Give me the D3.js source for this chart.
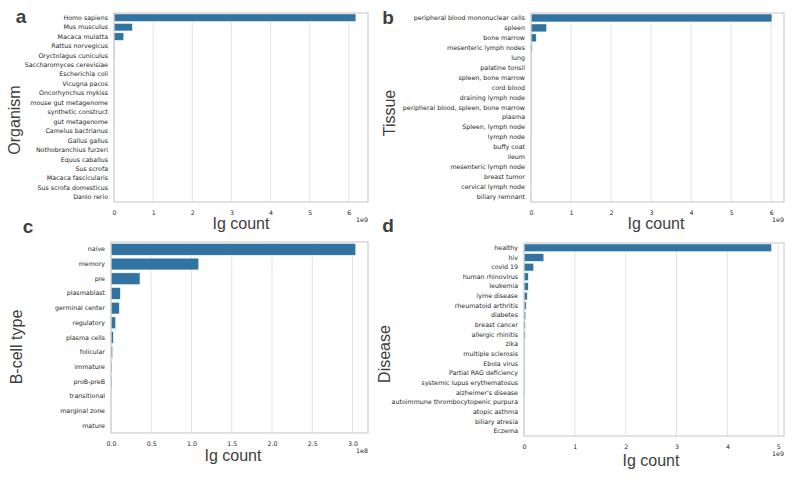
<!DOCTYPE html>
<html>
<head>
<meta charset="utf-8">
<script src="https://cdn.jsdelivr.net/npm/d3@7"></script>
<style>
  body { margin: 0; background: #fff; }
  svg { display: block; }
  .cat text, .num text { font-family: "DejaVu Sans", sans-serif; fill: #262626; }
  .lab { font-family: "Liberation Sans", Arial, sans-serif; fill: #404040; }
</style>
</head>
<body>
<div id="chart"></div>
<script>
// panel a - organism
var organisms = ["Homo sapiens", "Mus musculus", "Macaca mulatta", "Rattus norvegicus",
  "Oryctolagus cuniculus", "Saccharomyces cerevisiae", "Escherichia coli", "Vicugna pacos",
  "Oncorhynchus mykiss", "mouse gut metagenome", "synthetic construct", "gut metagenome",
  "Camelus bactrianus", "Gallus gallus", "Nothobranchius furzeri", "Equus caballus",
  "Sus scrofa", "Macaca fascicularis", "Sus scrofa domesticus", "Danio rerio"];
var organismCounts = [6.18e9, 0.47e9, 0.25e9, 0.02e9, 0.02e9, 0.004e9, 0.003e9, 0.002e9,
  0.002e9, 0.001e9, 0.001e9, 0.001e9, 0.0008e9, 0.0006e9, 0.0005e9, 0.0004e9,
  0.0003e9, 0.0003e9, 0.0002e9, 0.0001e9];
var organismTicks = [0, 1, 2, 3, 4, 5, 6];

// panel b - tissue
var tissues = ["peripheral blood mononuclear cells", "spleen", "bone marrow",
  "mesenteric lymph nodes", "lung", "palatine tonsil", "spleen, bone marrow", "cord blood",
  "draining lymph node", "peripheral blood, spleen, bone marrow", "plasma", "Spleen, lymph node",
  "lymph node", "buffy coat", "ileum", "mesenteric lymph node", "breast tumor",
  "cervical lymph node", "biliary remnant"];
var tissueCounts = [6.02e9, 0.39e9, 0.13e9, 0.03e9, 0.012e9, 0.012e9, 0.012e9, 0.011e9,
  0.011e9, 0.01e9, 0.01e9, 0.01e9, 0.004e9, 0.003e9, 0.003e9, 0.002e9, 0.002e9,
  0.001e9, 0.001e9];
var tissueTicks = [0, 1, 2, 3, 4, 5, 6];

// panel c - b-cell type
var cellTypes = ["naive", "memory", "pre", "plasmablast", "germinal center", "regulatory",
  "plasma cells", "folicular", "immature", "proB-preB", "transitional", "marginal zone", "mature"];
var cellCounts = [3.04e8, 1.09e8, 0.36e8, 0.116e8, 0.103e8, 0.058e8, 0.029e8, 0.02e8,
  0.012e8, 0.012e8, 0.003e8, 0.002e8, 0.001e8];
var cellTicks = [0, 0.5, 1.0, 1.5, 2.0, 2.5, 3.0];

// panel d - disease
var diseases = ["healthy", "hiv", "covid 19", "human rhinovirus", "leukemia", "lyme disease",
  "rheumatoid arthritis", "diabetes", "breast cancer", "allergic rhinitis", "zika",
  "multiple sclerosis", "Ebola virus", "Partial RAG deficiency", "systemic lupus erythematosus",
  "alzheimer's disease", "autoimmune thrombocytopenic purpura", "atopic asthma",
  "biliary atresia", "Eczema"];
var diseaseCounts = [4.87e9, 0.39e9, 0.19e9, 0.085e9, 0.085e9, 0.065e9, 0.042e9, 0.035e9,
  0.025e9, 0.025e9, 0.012e9, 0.012e9, 0.012e9, 0.012e9, 0.012e9, 0.012e9, 0.003e9,
  0.002e9, 0.001e9, 0.001e9];
var diseaseTicks = [0, 1, 2, 3, 4, 5];

var W = 800, H = 486;
var barColor = "#3274a1";

var svg = d3.select("#chart").append("svg").attr("width", W).attr("height", H);

function drawPanel(p) {
  var g = svg.append("g");
  var xmax = d3.max(p.values) * 1.05;
  var x = d3.scaleLinear().domain([0, xmax]).range([p.left, p.right]);
  var y = d3.scaleBand().domain(p.cats).range([p.top, p.bottom])
    .paddingInner(0.2).paddingOuter(0.1);

  // grid lines
  g.append("g").selectAll("line").data(p.ticks).join("line")
    .attr("x1", function(d) { return x(d * p.scale); })
    .attr("x2", function(d) { return x(d * p.scale); })
    .attr("y1", p.top).attr("y2", p.bottom)
    .attr("stroke", "#e3e3e3").attr("stroke-width", 1);

  // bars
  g.append("g").selectAll("rect").data(p.values).join("rect")
    .attr("x", x(0))
    .attr("y", function(d, i) { return y(p.cats[i]); })
    .attr("width", function(d) { return x(d) - x(0); })
    .attr("height", y.bandwidth())
    .attr("fill", barColor)
    .attr("stroke", "#fff").attr("stroke-width", 0.5);

  // frame
  g.append("rect")
    .attr("x", p.left).attr("y", p.top)
    .attr("width", p.right - p.left).attr("height", p.bottom - p.top)
    .attr("fill", "none").attr("stroke", "#cfcfcf").attr("stroke-width", 1.2);

  // category axis
  var yAxis = d3.axisLeft(y).tickSize(0).tickPadding(6);
  g.append("g").attr("class", "cat")
    .attr("transform", "translate(" + p.left + ",0)")
    .call(yAxis)
    .call(function(s) { s.select(".domain").remove(); })
    .selectAll("text").style("font-size", "6.3px");

  // value axis
  var xAxis = d3.axisBottom(x).tickValues(p.ticks.map(function(t) { return t * p.scale; }))
    .tickSize(0).tickPadding(9)
    .tickFormat(function(d) { return d3.format(p.fmt)(d / p.scale); });
  g.append("g").attr("class", "num")
    .attr("transform", "translate(0," + p.bottom + ")")
    .call(xAxis)
    .call(function(s) { s.select(".domain").remove(); })
    .selectAll("text").style("font-size", "6.3px");

  // offset text
  g.append("text").attr("class", "num")
    .attr("x", p.right).attr("y", p.bottom + 20)
    .attr("text-anchor", "end")
    .style("font-family", "DejaVu Sans, sans-serif").style("font-size", "6.3px").attr("fill", "#262626")
    .text(p.offset);

  // axis labels
  g.append("text").attr("class", "lab")
    .attr("x", p.xlabX).attr("y", p.xlabY)
    .attr("text-anchor", "middle").style("font-size", "16px")
    .text("Ig count");
  g.append("text").attr("class", "lab")
    .attr("transform", "translate(" + p.ylabX + "," + p.ylabY + ") rotate(-90)")
    .attr("text-anchor", "middle").style("font-size", "16px")
    .text(p.ylabel);

  // panel letter
  g.append("text")
    .attr("x", p.letterX).attr("y", p.letterY)
    .attr("text-anchor", "middle")
    .style("font-family", "Liberation Sans, Arial, sans-serif")
    .style("font-size", "19px").style("font-weight", "bold").attr("fill", "#404040")
    .text(p.letter);
}

drawPanel({cats: organisms, values: organismCounts, ticks: organismTicks, scale: 1e9, fmt: "d",
  offset: "1e9", left: 114, right: 368, top: 13, bottom: 202,
  xlabX: 241, xlabY: 229, ylabX: 20, ylabY: 120, ylabel: "Organism",
  letter: "a", letterX: 21, letterY: 23});

drawPanel({cats: tissues, values: tissueCounts, ticks: tissueTicks, scale: 1e9, fmt: "d",
  offset: "1e9", left: 531, right: 784, top: 13, bottom: 202,
  xlabX: 656, xlabY: 229, ylabX: 395, ylabY: 113, ylabel: "Tissue",
  letter: "b", letterX: 388, letterY: 24});

drawPanel({cats: cellTypes, values: cellCounts, ticks: cellTicks, scale: 1e8, fmt: ".1f",
  offset: "1e8", left: 111, right: 368, top: 242, bottom: 433,
  xlabX: 233, xlabY: 461, ylabX: 22, ylabY: 347, ylabel: "B-cell type",
  letter: "c", letterX: 28, letterY: 233});

drawPanel({cats: diseases, values: diseaseCounts, ticks: diseaseTicks, scale: 1e9, fmt: "d",
  offset: "1e9", left: 524, right: 784, top: 243, bottom: 436,
  xlabX: 651, xlabY: 466, ylabX: 390, ylabY: 354, ylabel: "Disease",
  letter: "d", letterX: 388, letterY: 232});
</script>
</body>
</html>
